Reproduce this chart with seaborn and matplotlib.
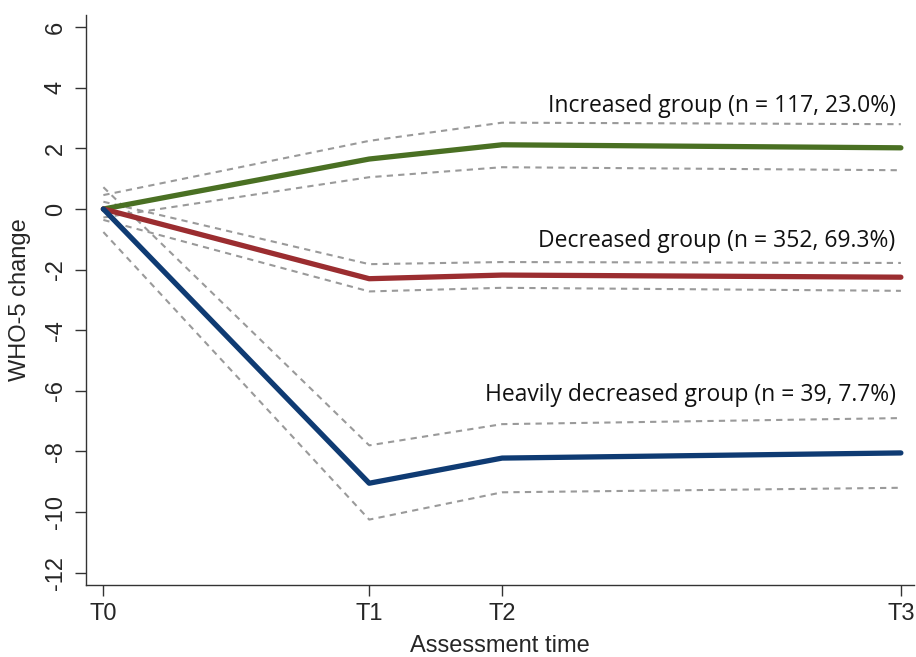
import numpy as np
import pandas as pd
import matplotlib
matplotlib.use("Agg")
import matplotlib.pyplot as plt
import seaborn as sns

# assessment points (months from baseline: T0=0, T1=2, T2=3, T3=6)
time_labels = ["T0", "T1", "T2", "T3"]
time_pos = [0, 2, 3, 6]

groups = ["Increased", "Decreased", "Heavily decreased"]
group_text = ["Increased group (n = 117, 23.0%)",
              "Decreased group (n = 352, 69.3%)",
              "Heavily decreased group (n = 39, 7.7%)"]

# mean WHO-5 change per group
inc_mean = [0.0, 1.65, 2.12, 2.02]
dec_mean = [0.0, -2.30, -2.18, -2.25]
hvy_mean = [0.0, -9.05, -8.22, -8.05]

# 95% CI bounds
inc_lo = [-0.28, 1.05, 1.38, 1.28]
inc_hi = [0.46, 2.25, 2.85, 2.80]
dec_lo = [-0.36, -2.72, -2.60, -2.70]
dec_hi = [0.24, -1.82, -1.75, -1.78]
hvy_lo = [-0.76, -10.25, -9.35, -9.20]
hvy_hi = [0.72, -7.80, -7.10, -6.90]

colors = ["#4a7023", "#9b2d30", "#0f3b73"]

rows = []
for g, m, lo, hi in zip(groups, [inc_mean, dec_mean, hvy_mean],
                        [inc_lo, dec_lo, hvy_lo], [inc_hi, dec_hi, hvy_hi]):
    for t, a, b, c in zip(time_pos, m, lo, hi):
        rows.append({"group": g, "time": t, "mean": a, "lo": b, "hi": c})
df = pd.DataFrame(rows)

sns.set_theme(style="ticks")
plt.rcParams['font.family'] = ['Liberation Sans Narrow', 'Liberation Sans', 'DejaVu Sans']
plt.rcParams['axes.unicode_minus'] = False

fig = plt.figure(figsize=(9.16, 6.57), dpi=100)
ax = fig.add_axes([0.094, 0.11, 0.904, 0.867])

# CI bands as dashed grey lines
for col in ["lo", "hi"]:
    sns.lineplot(data=df, x="time", y=col, units="group", estimator=None,
                 color="#9a9a9a", lw=1.5, ax=ax, legend=False)
for line in ax.get_lines():
    line.set_dashes([3, 2.5])

sns.lineplot(data=df, x="time", y="mean", hue="group", hue_order=groups,
             palette=colors, lw=3.8, ax=ax, legend=False)

# group labels, right aligned
label_y = [3.4, -1.05, -6.15]
for txt, yy in zip(group_text, label_y):
    ax.text(5.96, yy, txt, ha="right", va="center", fontsize=16.5,
            family=["Open Sans", "DejaVu Sans"], color="#111111")

ax.set_xlim(-0.13, 6.1)
ax.set_ylim(-12.4, 6.4)
ax.set_xticks(time_pos)
ax.set_xticklabels(time_labels)
ax.set_yticks(np.arange(-12, 7, 2))
ax.tick_params(axis="both", labelsize=17, length=8, width=1, color="#333333")
ax.tick_params(axis="x", pad=5)
ax.tick_params(axis="y", labelrotation=90, pad=6)
for lab in ax.get_yticklabels():
    lab.set_va("center")
ax.set_xlabel("Assessment time", fontsize=17, labelpad=7)
ax.set_ylabel("WHO-5 change", fontsize=17, labelpad=10)
sns.despine(ax=ax)
for s in ["left", "bottom"]:
    ax.spines[s].set_color("#333333")
    ax.spines[s].set_linewidth(1)

fig.savefig("out.png", dpi=100)
